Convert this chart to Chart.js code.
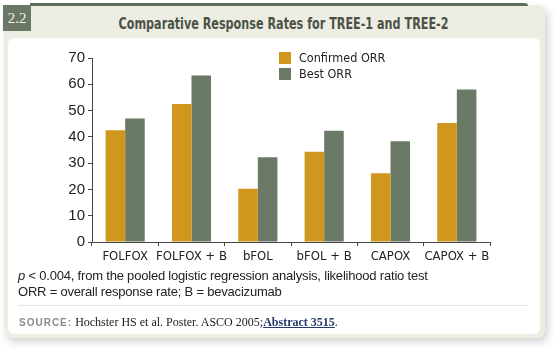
<!DOCTYPE html>
<html>
<head>
<meta charset="utf-8">
<script src="https://cdn.jsdelivr.net/npm/chart.js@4.4.0/dist/chart.umd.min.js"></script>
<style>
  html, body { margin: 0; padding: 0; background: #fff; }
  body { width: 560px; height: 353px; position: relative; overflow: hidden; font-family: "Liberation Sans", Arial, sans-serif; }
  #card { position: absolute; left: 4px; top: 5px; width: 541px; height: 333px; background: #eeede3;
          border-radius: 0 8px 8px 8px; box-shadow: 3px 4px 8px rgba(0,0,0,0.18); }
  #topline { position: absolute; left: 30px; top: 3px; width: 498px; height: 3px; background: #5f6c5a; border-radius: 0 3px 0 0; }
  #badge { position: absolute; left: 3px; top: 5px; width: 28px; height: 26px; background: #6a7765; color: #f2f2ea;
           font: 15px "Liberation Serif", serif; line-height: 26px; text-align: center; }
  #title { position: absolute; left: 0; top: 15px; width: 567px; text-align: center; color: #4a5346;
           font: bold 15px "DejaVu Sans Condensed", sans-serif; transform: scaleX(0.83); transform-origin: 283.5px 0; }
  #panel { position: absolute; left: 8px; top: 38px; width: 532px; height: 296px; background: #fff; border-radius: 6px; }
  #chartbox { position: absolute; left: 8px; top: 40px; width: 530px; height: 230px; }
  #legend { position: absolute; left: 279px; top: 51px; font: 12.5px "DejaVu Sans Condensed", sans-serif; color: #222; }
  #legend div { height: 16px; line-height: 14px; position: relative; padding-left: 20px; }
  #legend span { position: absolute; left: 0; top: 1px; width: 12px; height: 12px; }
  .note { position: absolute; left: 18px; font: 13px "Liberation Sans", Arial, sans-serif; letter-spacing: -0.2px; color: #222; }
  #sep { position: absolute; left: 18px; top: 305px; width: 509px; height: 1px; background: #e4e4dd; }
  #source { position: absolute; left: 19px; top: 315px; font: 12px "Liberation Serif", serif; color: #222; }
  #source b { font: bold 10px "Liberation Sans", sans-serif; color: #8c8c86; letter-spacing: 1px; }
  #source a { color: #243a6b; font-weight: bold; text-decoration: underline; }
</style>
</head>
<body>
<div id="card"></div>
<div id="topline"></div>
<div id="badge">2.2</div>
<div id="title">Comparative Response Rates for TREE-1 and TREE-2</div>
<div id="panel"></div>
<div id="chartbox"><canvas id="rateChart"></canvas></div>
<div id="legend"></div>
<div class="note" style="top:268px"><i>p</i> &lt; 0.004, from the pooled logistic regression analysis, likelihood ratio test</div>
<div class="note" style="top:284px">ORR = overall response rate; B = bevacizumab</div>
<div id="sep"></div>
<div id="source"><b>SOURCE:</b> Hochster HS et al. Poster. ASCO 2005;<a>Abstract 3515</a>.</div>
<script>
// Response rates (%)
const regimens = ['FOLFOX', 'FOLFOX + B', 'bFOL', 'bFOL + B', 'CAPOX', 'CAPOX + B'];
const confirmedOrr = [42.5, 52.5, 20.3, 34.3, 26.2, 45.3];
const bestOrr = [47, 63.3, 32.2, 42.3, 38.3, 58];
const yTicks = [0, 10, 20, 30, 40, 50, 60, 70];

const orange = '#d0971f';
const green = '#6b7a66';
const labelFont = { family: '"DejaVu Sans Condensed", sans-serif', size: 13 };

const ctx = document.getElementById('rateChart').getContext('2d');
const chart = new Chart(ctx, {
    type: 'bar',
    data: {
        labels: regimens,
        datasets: [{
            label: 'Confirmed ORR',
            data: confirmedOrr,
            backgroundColor: orange
        }, {
            label: 'Best ORR',
            data: bestOrr,
            backgroundColor: green
        }]
    },
    options: {
        responsive: true,
        maintainAspectRatio: false,
        animation: false,
        datasets: { bar: { categoryPercentage: 0.59, barPercentage: 1.0 } },
        layout: { padding: { top: 18, right: 48, left: 0, bottom: 0 } },
        scales: {
            x: {
                grid: { offset: true, drawOnChartArea: false, drawTicks: true, tickLength: 4, color: '#444' },
                border: { color: '#444', width: 1 },
                ticks: { color: '#222', font: labelFont, padding: 3, maxRotation: 0, autoSkip: false },
                afterFit: function (scale) { scale.height = 28; }
            },
            y: {
                min: 0,
                max: 70,
                afterBuildTicks: function (scale) { scale.ticks = yTicks.map(v => ({ value: v })); },
                grid: { drawOnChartArea: false, drawTicks: true, tickLength: 4, color: '#444' },
                border: { color: '#444', width: 1 },
                ticks: { color: '#222', font: { family: '"Liberation Sans", Arial, sans-serif', size: 15 }, padding: 3 },
                afterFit: function (scale) { scale.width = 84; }
            }
        },
        plugins: {
            legend: { display: false },
            tooltip: { enabled: false }
        }
    }
});

// legend built from the datasets
const legendEl = document.getElementById('legend');
chart.data.datasets.forEach(ds => {
    const row = document.createElement('div');
    row.innerHTML = '<span style="background:' + ds.backgroundColor + '"></span>' + ds.label;
    legendEl.appendChild(row);
});
</script>
</body>
</html>
